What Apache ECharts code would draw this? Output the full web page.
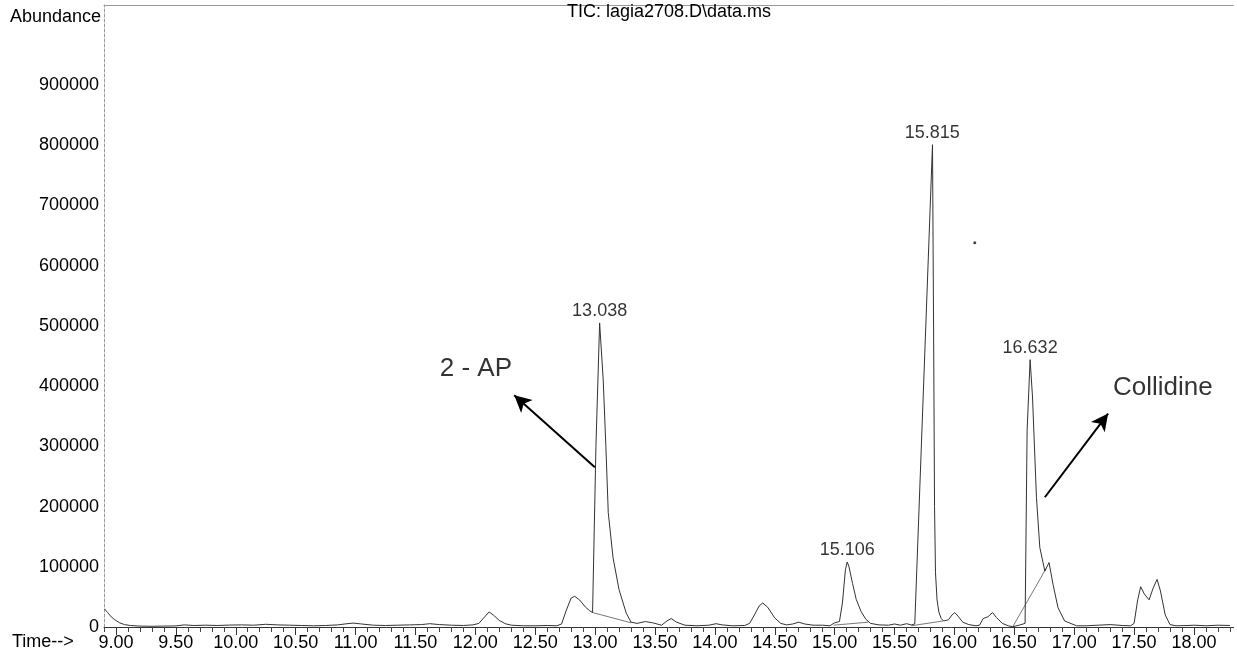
<!DOCTYPE html>
<html>
<head>
<meta charset="utf-8">
<script src="https://cdn.jsdelivr.net/npm/echarts@6/dist/echarts.min.js"></script>
<style>
html,body{margin:0;padding:0;background:#fff;}
#chart{width:1237px;height:657px;}
</style>
</head>
<body>
<div id="chart"></div>
<script>
// ---- Data ----
const times = [8.905,8.93,8.96,8.99,9.03,9.07,9.12,9.2,9.3,9.4,9.5,9.57,9.65,9.75,9.85,9.95,10.05,10.15,10.25,10.35,10.45,10.55,10.65,10.75,10.85,10.93,10.98,11.05,11.15,11.25,11.35,11.45,11.55,11.62,11.7,11.8,11.9,11.98,12.03,12.07,12.115,12.15,12.2,12.25,12.3,12.4,12.5,12.6,12.68,12.72,12.76,12.8,12.83,12.87,12.92,12.955,12.979,13.007,13.038,13.068,13.09,13.11,13.15,13.2,13.26,13.3,13.35,13.42,13.48,13.555,13.6,13.635,13.68,13.75,13.85,13.95,14.01,14.06,14.15,14.25,14.29,14.33,14.37,14.4,14.44,14.5,14.55,14.6,14.65,14.7,14.75,14.82,14.9,14.96,15.0,15.04,15.065,15.09,15.105,15.12,15.15,15.18,15.22,15.26,15.3,15.37,15.45,15.5,15.55,15.6,15.64,15.669,15.817,15.826,15.834,15.842,15.855,15.87,15.89,15.91,15.95,15.98,16.003,16.03,16.07,16.12,16.18,16.21,16.24,16.28,16.318,16.35,16.4,16.45,16.487,16.54,16.59,16.607,16.632,16.652,16.685,16.713,16.755,16.79,16.823,16.865,16.92,17.02,17.1,17.2,17.3,17.4,17.47,17.5,17.53,17.555,17.585,17.625,17.66,17.692,17.72,17.76,17.8,17.85,17.95,18.0,18.1,18.2,18.3];
const abundance = [30000,24000,17000,12000,7000,4000,2500,1500,1200,1500,1800,3500,2500,3000,2500,3200,3500,3000,4500,3500,3000,2500,2000,2500,3500,5500,6500,5000,3000,2500,3000,3500,4000,5500,4000,3000,2500,3500,6000,15000,25000,20000,11000,5500,3000,2000,2000,2500,2000,5000,28000,48000,51000,45000,33000,27000,24000,300000,505000,410000,300000,190000,115000,62000,23000,8000,6000,9000,7000,3000,10000,14000,8000,3000,2000,3000,5500,3500,2000,2500,6000,20000,35000,40000,33000,15000,6000,3500,5000,8000,5000,3000,3000,2000,7000,9000,40000,95000,108000,100000,72000,46000,26000,13000,6000,3500,3000,5000,3000,5500,3500,5000,801000,500000,200000,90000,45000,25000,14000,10000,12000,20000,24000,18000,8000,4000,2000,3000,14000,17000,24000,16000,6000,2000,500,3000,6000,327000,444000,382000,215000,132000,93000,107000,71000,32000,10000,2000,2000,3000,4000,2500,2000,6000,45000,67000,55000,45000,65000,79000,60000,20000,4000,2000,2500,3000,2000,3000,2500];

// labelled peaks
const peakTimes = [13.038, 15.106, 15.815, 16.632];
const peakHeights = [505000, 108000, 801000, 444000];
const peakLabels = ['13.038', '15.106', '15.815', '16.632'];

// integration baselines drawn by the data system
const baseStartT = [12.979, 14.99, 15.64, 16.487];
const baseStartV = [24000, 3000, 2000, 500];
const baseEndT = [13.3, 15.28, 15.905, 16.765];
const baseEndV = [7000, 8000, 10000, 97000];

// stray speck on the scan
const speckT = [16.17];
const speckV = [638000];

// axis tick labels
const xTickValues = [9, 9.5, 10, 10.5, 11, 11.5, 12, 12.5, 13, 13.5, 14, 14.5, 15, 15.5, 16, 16.5, 17, 17.5, 18];
const xTickLabels = ['9.00','9.50','10.00','10.50','11.00','11.50','12.00','12.50','13.00','13.50','14.00','14.50','15.00','15.50','16.00','16.50','17.00','17.50','18.00'];
const yTickValues = [0, 100000, 200000, 300000, 400000, 500000, 600000, 700000, 800000, 900000];
const yTickLabels = ['0','100000','200000','300000','400000','500000','600000','700000','800000','900000'];

// annotations
const annoTexts = ['2 - AP', 'Collidine'];
const annoT = [12.005, 17.74];
const annoV = [428000, 397000];
const arrowFromT = [12.998, 16.755];
const arrowFromV = [265500, 215500];
const arrowToT = [12.325, 17.283];
const arrowToV = [385000, 354500];

// ---- Build chart ----
const FONT = '"Liberation Sans", Arial, sans-serif';
const X_MIN = 8.9, X_MAX = 18.33;
const minorTicks = [];
for (let k = 89; k <= 183; k++) { if (k % 5 !== 0) minorTicks.push(k / 10); }

const chart = echarts.init(document.getElementById('chart'), null, {renderer: 'canvas'});

const traceData = times.map((t, i) => [t, abundance[i]]);
const baselineSeries = baseStartT.map((t, i) => ({
  type: 'line', xAxisIndex: 0, yAxisIndex: 0, silent: true,
  symbol: 'none', animation: false,
  data: [[t, baseStartV[i]], [baseEndT[i], baseEndV[i]]],
  lineStyle: {color: '#555', width: 0.8}, z: 3
}));

const option = {
  animation: false,
  backgroundColor: '#fff',
  title: {
    text: 'TIC: lagia2708.D\\data.ms',
    left: 567, top: 3, padding: 0,
    textStyle: {fontFamily: FONT, fontSize: 18, fontWeight: 'normal', color: '#000'}
  },
  grid: {left: 104, right: 3.5, top: 5, bottom: 30, containLabel: false},
  xAxis: [
    {
      type: 'value', min: X_MIN, max: X_MAX, position: 'bottom',
      axisLine: {show: true, onZero: false, lineStyle: {color: '#333', width: 1}},
      axisTick: {show: true, customValues: xTickValues, length: 8, lineStyle: {color: '#333', width: 1}},
      axisLabel: {
        show: true, customValues: xTickValues, margin: 7,
        fontFamily: FONT, fontSize: 18, color: '#000',
        formatter: function (v) { const i = xTickValues.findIndex(x => Math.abs(x - v) < 1e-6); return i >= 0 ? xTickLabels[i] : ''; }
      },
      splitLine: {show: false}
    },
    {
      type: 'value', min: X_MIN, max: X_MAX, position: 'bottom',
      axisLine: {show: false},
      axisTick: {show: true, customValues: minorTicks, length: 5, lineStyle: {color: '#444', width: 1}},
      axisLabel: {show: false},
      splitLine: {show: false}
    },
    {
      type: 'value', min: X_MIN, max: X_MAX, position: 'top',
      axisLine: {show: true, lineStyle: {color: '#999', width: 1}},
      axisTick: {show: false}, axisLabel: {show: false}, splitLine: {show: false}
    }
  ],
  yAxis: {
    type: 'value', min: 0, max: 1033000,
    axisLine: {show: true, lineStyle: {color: '#999', width: 1, type: [3, 2]}},
    axisTick: {show: false},
    axisLabel: {
      show: true, customValues: yTickValues, margin: 5,
      fontFamily: FONT, fontSize: 18, color: '#000',
      formatter: function (v) { const i = yTickValues.indexOf(v); return i >= 0 ? yTickLabels[i] : ''; }
    },
    splitLine: {show: false}
  },
  graphic: [
    {type: 'text', left: 10, top: 8, style: {text: 'Abundance', font: '18px ' + FONT, fill: '#000'}},
    {type: 'text', left: 12, top: 633, style: {text: 'Time-->', font: '18px ' + FONT, fill: '#000'}}
  ],
  series: [
    {
      name: 'TIC', type: 'line', data: traceData, symbol: 'none', silent: true,
      lineStyle: {color: '#333', width: 1}, z: 4
    },
    ...baselineSeries,
    {
      name: 'peaks', type: 'scatter', silent: true,
      data: peakTimes.map((t, i) => ({value: [t, peakHeights[i]], name: peakLabels[i]})),
      symbolSize: 0, itemStyle: {color: '#000'},
      label: {show: true, position: 'top', distance: 3, formatter: '{b}', fontFamily: FONT, fontSize: 18, color: '#000'},
      emphasis: {disabled: true},
      z: 5
    },
    {
      name: 'annotations', type: 'scatter', silent: true,
      data: annoT.map((t, i) => ({value: [t, annoV[i]], name: annoTexts[i]})),
      symbolSize: 0, itemStyle: {color: '#000'},
      label: {show: true, position: 'inside', formatter: '{b}', fontFamily: FONT, fontSize: 26, color: '#000', textBorderWidth: 0},
      emphasis: {disabled: true},
      z: 5
    },
    {
      name: 'speck', type: 'scatter', silent: true,
      data: speckT.map((t, i) => [t, speckV[i]]),
      symbolSize: 3, itemStyle: {color: '#111'}
    },
    {
      name: 'arrows', type: 'line', data: [], silent: true,
      markLine: {
        silent: true, animation: false,
        symbol: ['none', 'arrow'], symbolSize: [13, 17],
        label: {show: false},
        lineStyle: {color: '#000', width: 2, type: 'solid'},
        emphasis: {disabled: true},
        data: arrowFromT.map((t, i) => [{coord: [t, arrowFromV[i]]}, {coord: [arrowToT[i], arrowToV[i]]}])
      }
    }
  ]
};
chart.setOption(option);
</script>
</body>
</html>
